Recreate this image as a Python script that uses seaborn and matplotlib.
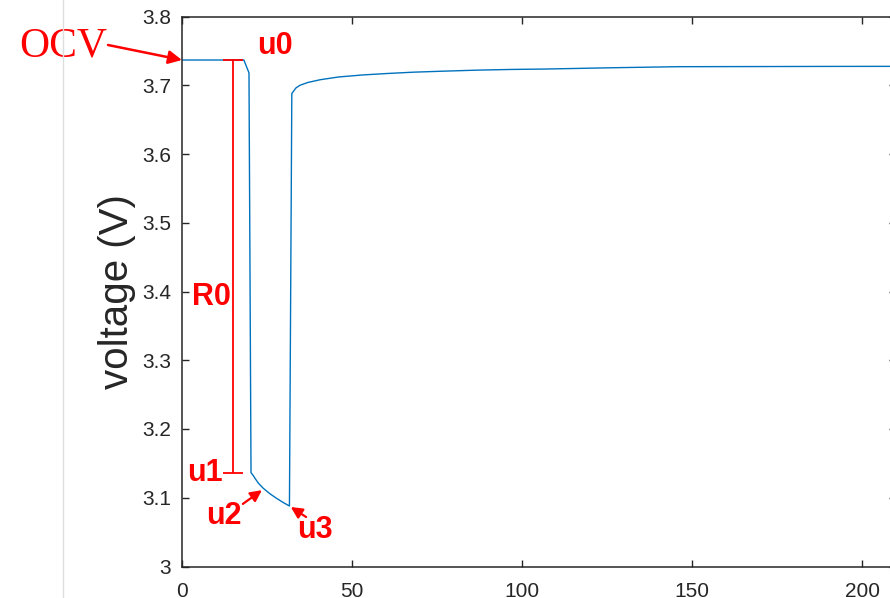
import numpy as np
import pandas as pd
import seaborn as sns
import matplotlib
matplotlib.use('Agg')
from matplotlib import pyplot as plt
from matplotlib.lines import Line2D

# values
time_s = [0, 18.2, 19.7, 20.3, 21.0, 21.5, 22.5, 23.9, 25.8, 27.8, 29.8, 31.6,
          32.3, 33.5, 34.7, 37, 40.6, 46, 53.2, 60, 68, 77, 87, 97, 107, 127,
          146, 170, 190, 210]
voltage = [3.7367, 3.7367, 3.718, 3.1365, 3.132, 3.128, 3.121, 3.1138, 3.106,
           3.0992, 3.093, 3.088,
           3.688, 3.696, 3.700, 3.704, 3.708, 3.712, 3.715, 3.717, 3.719,
           3.7205, 3.722, 3.723, 3.7236, 3.7255, 3.727, 3.7272, 3.7274, 3.7275]

ocv = 3.7367
u1 = 3.1365
u2 = (23.5, 3.111)
u3 = (32.0, 3.0865)
r0_x = 15

x_ticks = [0, 50, 100, 150, 200]
y_ticks = [3.0, 3.1, 3.2, 3.3, 3.4, 3.5, 3.6, 3.7, 3.8]
y_tick_labels = ['3', '3.1', '3.2', '3.3', '3.4', '3.5', '3.6', '3.7', '3.8']

sns.set_theme(style='ticks')
plt.rcParams['font.family'] = ['Liberation Sans', 'DejaVu Sans']

df = pd.DataFrame({'t': time_s, 'v': voltage})

fig = plt.figure(figsize=(8.9, 5.98), dpi=100)
ax = fig.add_axes([182 / 890, 1 - 566.5 / 598, (896 - 182) / 890, 550 / 598])

sns.lineplot(data=df, x='t', y='v', ax=ax, color='#0072BD', linewidth=1.0,
             estimator=None, sort=False)

# R0 bracket
mid = (ocv + u1) / 2
ax.errorbar([r0_x], [mid], yerr=[(ocv - u1) / 2], color='red', linewidth=1.3,
            capsize=7, capthick=1.3)

ax.set_xlim(0, 210)
ax.set_ylim(3.0, 3.8)
ax.set_xticks(x_ticks)
ax.set_yticks(y_ticks)
ax.set_yticklabels(y_tick_labels)
ax.set_xlabel('')
ax.set_ylabel('voltage (V)', fontsize=29, color='#262626', labelpad=4)
ax.tick_params(direction='in', length=5, width=1.0, top=True, right=True,
               labelsize=15, colors='#262626', pad=8)
ax.tick_params(axis='x', pad=11)
for sp in ax.spines.values():
    sp.set_visible(True)
    sp.set_color('#262626')
    sp.set_linewidth(1.1)

red_bold = dict(color='red', fontsize=22, fontweight='bold', ha='center', va='center')
ax.text(27.2, 3.757, 'u0', **red_bold)
ax.text(8.8, 3.392, 'R0', **red_bold)
ax.text(6.6, 3.136, 'u1', **red_bold)
ax.text(12.4, 3.0735, 'u2', **red_bold)
ax.text(39.1, 3.053, 'u3', **red_bold)

arrow = dict(arrowstyle='-|>', color='red', linewidth=1.6, mutation_scale=17,
             shrinkA=0, shrinkB=0)
ax.annotate('', xy=u2, xytext=(17.9, 3.091), arrowprops=arrow)
ax.annotate('', xy=u3, xytext=(36.5, 3.072), arrowprops=arrow)

ax.text(-35, 3.757, 'OCV', color='red', fontsize=30,
        family='Liberation Serif', ha='center', va='center', clip_on=False)
ax.annotate('', xy=(0, ocv), xytext=(108 / 890, 1 - 45 / 598),
            textcoords='figure fraction', annotation_clip=False,
            arrowprops=dict(arrow, mutation_scale=20, linewidth=1.8))

# faint divider line at the left of the screenshot
fig.add_artist(Line2D([63 / 890, 63 / 890], [0, 1], color='#dedede', linewidth=1.0))

fig.savefig('out.png', dpi=100)
